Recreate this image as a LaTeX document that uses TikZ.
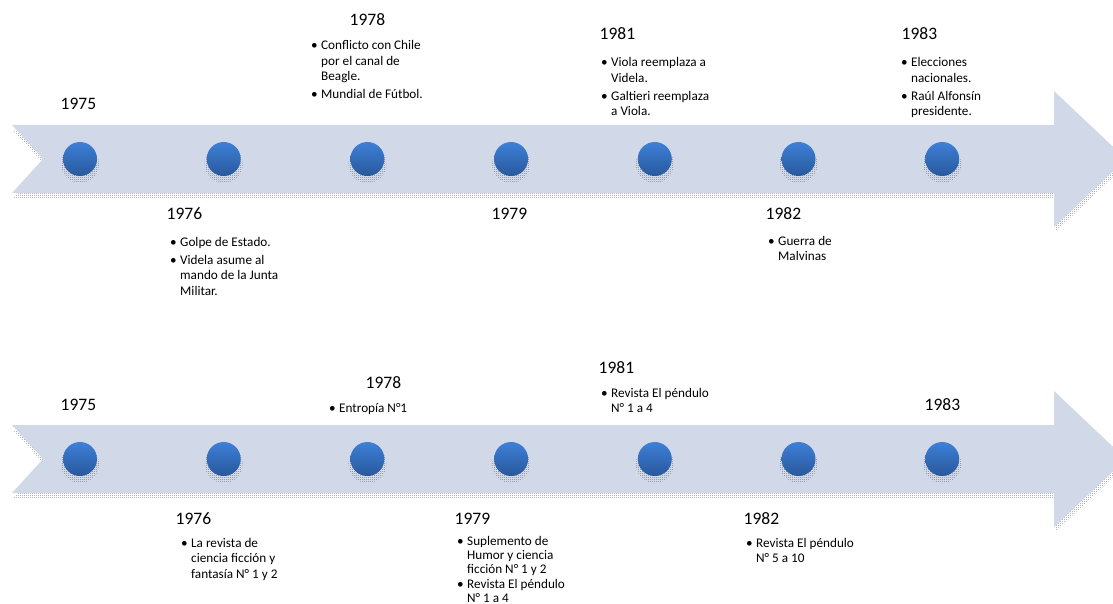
\documentclass[tikz,border=0pt]{standalone}
\usepackage{fontspec}
\setmainfont{Carlito}
\usetikzlibrary{patterns}
\definecolor{arrowfill}{RGB}{209,217,232}
\definecolor{dottop}{RGB}{62,128,216}
\definecolor{dotbot}{RGB}{40,88,155}
\definecolor{shadowc}{RGB}{80,80,80}
\pgfdeclarepatternformonly{stipple}{\pgfpointorigin}{\pgfpoint{2pt}{2pt}}{\pgfpoint{2pt}{2pt}}{%
  \pgfpathrectangle{\pgfpointorigin}{\pgfpoint{1pt}{1pt}}\pgfusepath{fill}}
\newcommand{\yearfont}{\fontsize{17.5}{20}\selectfont}
\newcommand{\listfont}{\fontsize{13.2}{15.5}\selectfont}
\newcommand{\tightfont}{\fontsize{13.2}{14.2}\selectfont}
\newcommand{\bl}{\llap{\textbullet\hspace{3.5pt}}}
\newcommand{\arrowshape}{(12,125) -- (1054,125) -- (1054,91) -- (1126,159) -- (1054,227) -- (1054,193) -- (12,193) -- (43,159) -- cycle}
\begin{document}
\begin{tikzpicture}[x=1pt,y=-1pt,
  year/.style={font=\yearfont, anchor=base west, inner sep=0pt},
  blist/.style={font=\listfont, anchor=base west, inner sep=0pt},
  dot/.style={circle, minimum size=34pt, inner sep=0pt, top color=dottop, bottom color=dotbot},
  shade/.style={pattern=stipple, pattern color=shadowc}]
\useasboundingbox (0,0) rectangle (1113,604);
\clip (0,0) rectangle (1113,604);
\foreach \dy/\r in {0/t,300/b}{
  \begin{scope}[shift={(0,\dy)}]
    \begin{scope}[shift={(1,5)}]
      \fill[shade] \arrowshape;
    \end{scope}
    \fill[arrowfill] \arrowshape;
    \foreach \i in {0,...,6}{
      \fill[shade] ({80+143.7*\i},164) circle (19);
      \node[dot] (c\r\i) at ({80+143.7*\i},159) {};
    }
  \end{scope}
}
% top timeline
\node[year] (yt75) at (60.5,110) {1975};
\node[year] (yt76) at (166.5,219) {1976};
\node[year] (yt78) at (349.5,26) {1978};
\node[year] (yt79) at (491.5,219) {1979};
\node[year] (yt81) at (599.5,40) {1981};
\node[year] (yt82) at (765.5,219) {1982};
\node[year] (yt83) at (901.5,40) {1983};
\node[blist] (lt76) at (180,246) {\begin{tabular}[t]{@{}l@{}}\bl Golpe de Estado.\\[2.5pt]\bl Videla asume al\\ mando de la Junta\\ Militar.\end{tabular}};
\node[blist] (lt78) at (321,50) {\begin{tabular}[t]{@{}l@{}}\bl Conflicto con Chile\\ por el canal de\\ Beagle.\\[2.5pt]\bl Mundial de Fútbol.\end{tabular}};
\node[blist] (lt81) at (611,67) {\begin{tabular}[t]{@{}l@{}}\bl Viola reemplaza a\\ Videla.\\[2.5pt]\bl Galtieri reemplaza\\ a Viola.\end{tabular}};
\node[blist] (lt82) at (778,245) {\begin{tabular}[t]{@{}l@{}}\bl Guerra de\\ Malvinas\end{tabular}};
\node[blist] (lt83) at (911,67) {\begin{tabular}[t]{@{}l@{}}\bl Elecciones\\ nacionales.\\[2.5pt]\bl Raúl Alfonsín\\ presidente.\end{tabular}};
% bottom timeline
\node[year] (yb75) at (60.5,410) {1975};
\node[year] (yb76) at (175.5,524) {1976};
\node[year] (yb78) at (365.5,388) {1978};
\node[year] (yb79) at (454.5,524) {1979};
\node[year] (yb81) at (598.5,373) {1981};
\node[year] (yb82) at (743.5,524) {1982};
\node[year] (yb83) at (924.5,410) {1983};
\node[blist] (lb76) at (191,547) {\begin{tabular}[t]{@{}l@{}}\bl La revista de\\ ciencia ficción y\\ fantasía N° 1 y 2\end{tabular}};
\node[blist] (lb78) at (339,412) {\begin{tabular}[t]{@{}l@{}}\bl Entropía N°1\end{tabular}};
\node[blist, font=\tightfont] (lb79) at (467,545) {\begin{tabular}[t]{@{}l@{}}\bl Suplemento de\\ Humor y ciencia\\ ficción N° 1 y 2\\[1pt]\bl Revista El péndulo\\ N° 1 a 4\end{tabular}};
\node[blist] (lb81) at (611,397) {\begin{tabular}[t]{@{}l@{}}\bl Revista El péndulo\\ N° 1 a 4\end{tabular}};
\node[blist] (lb82) at (756,547) {\begin{tabular}[t]{@{}l@{}}\bl Revista El péndulo\\ N° 5 a 10\end{tabular}};
\end{tikzpicture}
\end{document}
